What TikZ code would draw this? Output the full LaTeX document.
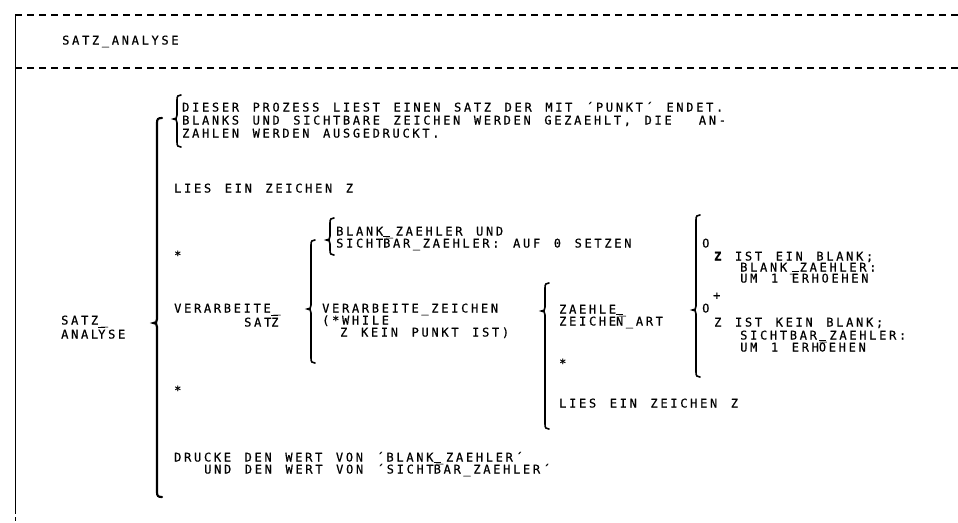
\documentclass[tikz,border=0pt]{standalone}
\usepackage{fontspec}
\newfontfamily\plot[LetterSpace=22.5,WordSpace={1.371,0,0},FakeBold=0.6]{DejaVu Sans Mono}
\newcommand\ovl[1]{\rlap{\raisebox{10.4pt}{\rule{7pt}{0.8pt}}}#1}
\newcommand\bracez[6][]{\draw[brc,#1] (#2+#6,#3) .. controls (#2+1,#3) and (#2,#3+1) .. (#2,#3+5) -- (#2,#4-4) .. controls (#2,#4-1) and (#2-1,#4) .. (#2-3.5,#4) .. controls (#2-1,#4) and (#2,#4+1) .. (#2,#4+4) -- (#2,#5-5) .. controls (#2,#5-1) and (#2+1,#5) .. (#2+#6,#5);}
\begin{document}
\begin{tikzpicture}[x=1pt,y=-1pt,
  txt/.style={anchor=base west,inner sep=0pt,font=\plot\fontsize{12}{13}\selectfont},
  dsh/.style={line width=1.1pt,dash pattern=on 7pt off 5pt},
  frame/.style={line width=1pt},
  brc/.style={line width=1.6pt,line cap=round}]
\useasboundingbox (0,0) rectangle (958,522);
% header frame
\draw[dsh] (15,15) -- (958,15);
\draw[dsh] (15,68) -- (958,68);
\draw[frame] (15,15) -- (15,514);
\draw[frame] (15,517) -- (15,521);
\node[txt] (hdr) at (62,44.5) {SATZ\_ANALYSE};
% braces
\bracez[line width=2.2pt]{157}{118}{323}{497}{5}
\bracez{177}{95}{119}{147}{4}
\bracez{311}{240}{309}{363}{4}
\bracez{330}{218}{240}{255}{4}
\bracez{545}{283}{311}{429}{4}
\bracez{696}{215}{310}{377}{4}
% texts
\node[txt] (r1) at (61,324.5) {SATZ\_};
\node[txt] (r2) at (61,338.5) {ANAL\ovl{Y}SE};
\node[txt] (d1) at (182,111.5) {DIESER PROZESS LIEST EINEN SATZ DER MIT ´PUNKT´ ENDET.};
\node[txt] (d2) at (182,124.5) {BLANKS UND SICHTBARE ZEICHEN WERDEN GEZAEHLT, DIE~~AN-};
\node[txt] (d3) at (182,137.5) {ZAHLEN WERDEN AUSGEDRUCKT.};
\node[txt] (l1) at (174,192.5) {LIES EIN ZEICHEN Z};
\node[txt] (s1) at (174,259.5) {*};
\node[txt] (v1) at (174,312.5) {VERARBEITE\_};
\node[txt] (v2) at (244,326.5) {SAT\ovl{Z}};
\node[txt] (s2) at (174,394.5) {*};
\node[txt] (p1) at (174,461.5) {DRUCKE DEN WERT VON ´BLANK\_ZAEHLER´};
\node[txt] (p2) at (204,473.5) {UND DEN WERT VON ´SICHT\ovl{B}AR\_ZAEHLER´};
\node[txt] (b1) at (336,235.5) {BLANK\_ZAEHLER UND};
\node[txt] (b2) at (336,247.5) {SICHT\ovl{B}AR\_ZAEHLER: AUF 0 SETZEN};
\node[txt] (w1) at (322,312.5) {VERARBEITE\_ZEICHEN};
\node[txt] (w2) at (322,324.5) {(*WHILE};
\node[txt] (w3) at (340,336.5) {Z KEIN PUNKT IST)};
\node[txt] (z1) at (559,313.5) {ZAEHLE\_};
\node[txt] (z2) at (559,325.5) {ZEICHE\ovl{N}\_ART};
\node[txt] (s3) at (559,367.5) {*};
\node[txt] (l2) at (559,407.5) {LIES EIN ZEICHEN Z};
\node[txt] (o1) at (702,247.5) {O};
\node[txt] (c1) at (714,260.5) {{\bfseries Z} IST EIN BLANK;};
\node[txt] (c2) at (740,271.5) {BLANK\_ZAEHLER:};
\node[txt] (c3) at (740,282.5) {UM 1 \ovl{E}RHOEHEN};
\node[txt] (pl) at (713,299.5) {+};
\node[txt] (o2) at (702,312.5) {O};
\node[txt] (c4) at (714,326.5) {Z IST KEIN BLANK;};
\node[txt] (c5) at (740,339.5) {SICHTBAR\_ZAEHLER:};
\node[txt] (c6) at (740,351.5) {UM 1 ERH\ovl{O}EHEN};
\end{tikzpicture}
\end{document}
